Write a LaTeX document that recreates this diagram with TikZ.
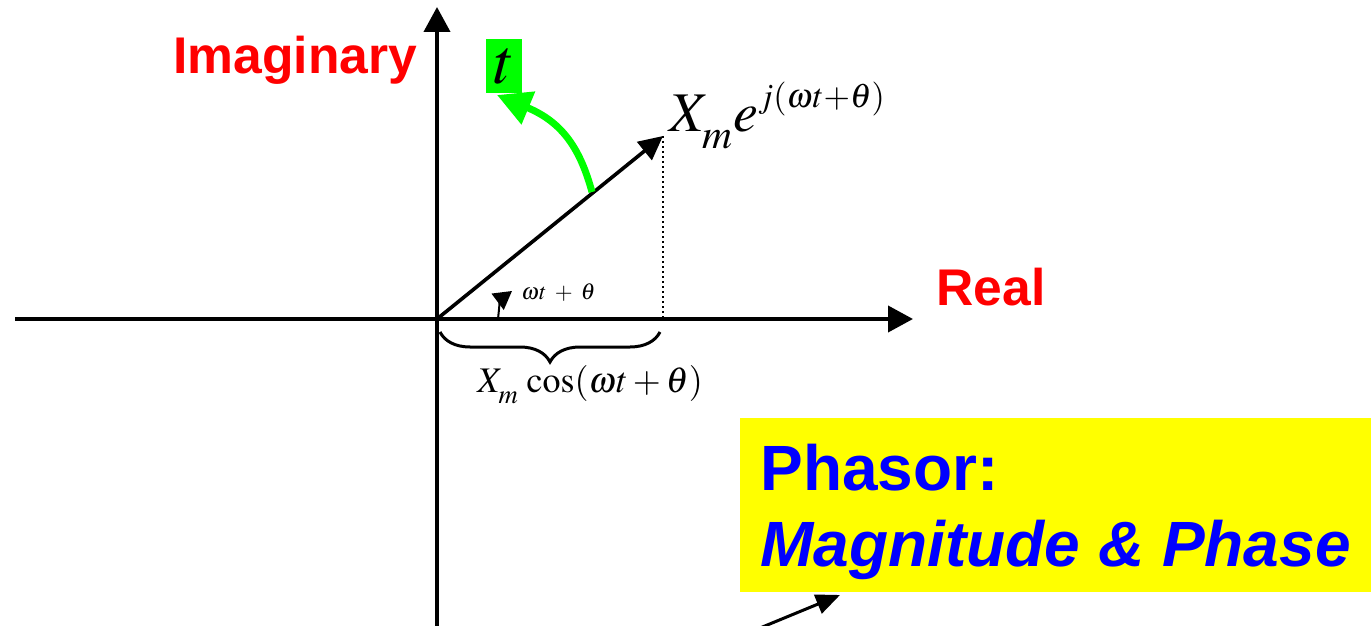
\documentclass[tikz,border=0pt]{standalone}
\usepackage{mathptmx}
\usepackage[no-math]{fontspec}
\setmainfont{Liberation Serif}
\newfontfamily\arialfont{Liberation Sans}
\usetikzlibrary{positioning,arrows.meta,decorations.pathreplacing}
\definecolor{labelred}{RGB}{255,0,0}
\definecolor{noteblue}{RGB}{0,0,255}
\definecolor{noteyellow}{RGB}{255,255,0}
\definecolor{turngreen}{RGB}{0,255,0}

\begin{document}
\begin{tikzpicture}[x=0.5pt,y=-0.5pt,
  axis/.style={line width=2pt,-{Triangle[length=12.5pt,width=13pt]}},
  axlabel/.style={labelred,inner sep=0,anchor=base west,font=\arialfont\bfseries\fontsize{25.8}{30}\selectfont},
  bluetext/.style={noteblue,inner sep=0,anchor=base west,font=\arialfont\bfseries\fontsize{32}{38}\selectfont}]
\useasboundingbox (0,0) rectangle (1371,626);
% axes
\coordinate (O) at (437,319);
\coordinate (ybot) at (437,630);
\coordinate (ytop) at (437,7);
\coordinate (xleft) at (15,319);
\coordinate (xright) at (913,319);
\draw[axis] (ybot)--(ytop);
\draw[axis] (xleft)--(xright);
\node[axlabel] (imag) at (173,74) {Imaginary};
\node[axlabel] (real) at (936,305) {Real};
% phasor
\coordinate (P) at (663,136);
\coordinate (Pfoot) at (663,319);
\draw[line width=1pt,dash pattern=on 1pt off 1.5pt] (P)--(Pfoot);
\draw[line width=1.8pt,-{Triangle[length=12pt,width=11.5pt]}] (O)--(P);
\node[inner sep=0,anchor=base west,font=\fontsize{28}{32}\selectfont] (phasor) at (669,132)
  {$X_{\lower4pt\hbox{$\scriptstyle m$}}e^{\raise2pt\hbox{\fontsize{17}{20}\selectfont$j(\omega t{+}\theta)$}}$};
% angle
\coordinate (a0) at (498,319);
\coordinate (a1) at (512,291);
\draw[line width=1pt,-{Triangle[length=9pt,width=10pt]}] (a0) .. controls (500,300) .. (a1);
\node[inner sep=0,anchor=base west,font=\fontsize{11.5}{13}\selectfont] (angle) at (521,299)
  {$\omega t\;+\;\theta$};
% projection
\coordinate (b0) at (440,332);
\coordinate (b1) at (660,332);
\draw[line width=1.5pt,decorate,decoration={brace,mirror,amplitude=15pt}] (b0)--(b1);
\node[inner sep=0,anchor=base west,font=\fontsize{18}{22}\selectfont] (proj) at (477,392)
  {$X_{\lower3pt\hbox{$\scriptstyle m$}}\,\cos(\omega t+\theta)$};
% rotation
\coordinate (g0) at (592,192);
\coordinate (g1) at (497,95);
\draw[line width=3.5pt,turngreen,-{Triangle[length=17pt,width=17pt]}] (g0) .. controls (580,148) and (562,122) .. (g1);
\node[fill=turngreen,inner sep=0,minimum width=18pt,minimum height=27pt,font=\fontsize{32}{36}\selectfont] (tbox) at (504,66) {$t$};
% note
\node[fill=noteyellow,inner sep=0,minimum width=315.5pt,minimum height=87pt,anchor=north west] (note) at (740,418) {};
\node[bluetext] (l1) at (760,490) {Phasor:};
\node[bluetext,font=\arialfont\bfseries\itshape\fontsize{32}{38}\selectfont] (l2) at (760,566) {Magnitude \& Phase};
\coordinate (tail) at (760,628);
\coordinate (tip) at (840,595);
\draw[line width=1.5pt,-{Triangle[length=12pt,width=10pt]}] (tail)--(tip);
\end{tikzpicture}
\end{document}
